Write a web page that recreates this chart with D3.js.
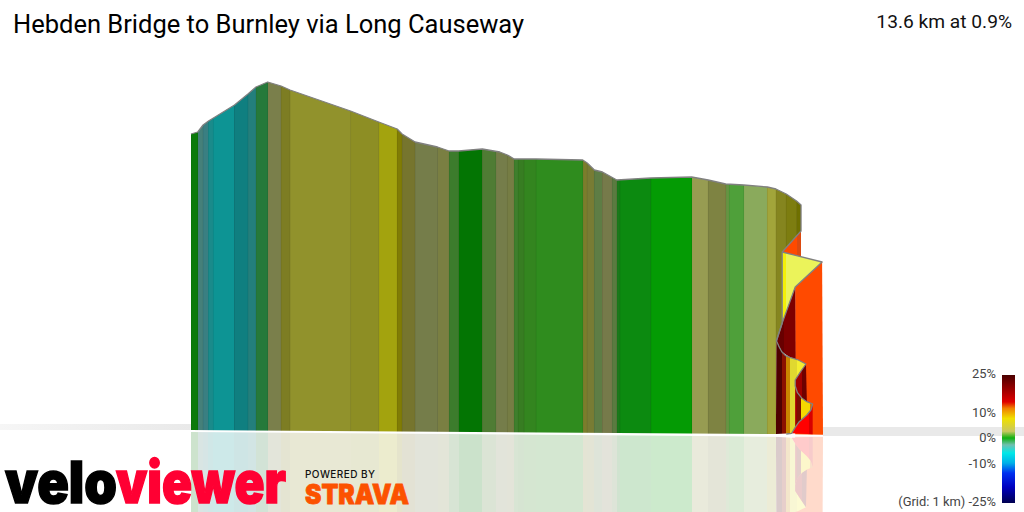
<!DOCTYPE html>
<meta charset="utf-8">
<style>
  html, body { margin: 0; padding: 0; background: #fff; overflow: hidden; }
  text { font-family: Roboto, sans-serif; }
</style>
<body>
<script src="https://d3js.org/d3.v7.min.js"></script>
<div id="chart"></div>
<script>

var title = "Hebden Bridge to Burnley via Long Causeway";
var summary = "13.6 km at 0.9%";

// distance along the ride (km) where the gradient colour changes
var mainBreaks = [0, 0.15, 0.27, 0.39, 0.50, 0.97, 1.27, 1.45, 1.71, 2.01, 2.21, 3.56, 4.19, 4.60, 4.71,
  5.00, 5.50, 5.76, 5.97, 6.50, 6.80, 7.06, 7.21, 7.30, 7.43, 7.70, 8.74, 8.84, 9.00, 9.18, 9.40, 9.50,
  9.57, 10.26, 11.17, 11.54, 11.93, 12.01, 12.33, 12.86, 13.05, 13.28, 13.51, 13.61];
var mainColors = ["#0b7a0b", "#45807a", "#3a7f82", "#1a8b8b", "#0d9494", "#0f7f80", "#237f7c", "#26793a",
  "#7a7f4b", "#7d7d23", "#91922c", "#8d8e24", "#a3a30e", "#807c05", "#76752e", "#757d4a", "#7a7f42",
  "#3c7c2c", "#037503", "#4f7c34", "#757d4a", "#767d44", "#3f7f2c", "#377d22", "#33851f", "#2f8c1e",
  "#7b7d2c", "#787c34", "#5e7d45", "#767a4a", "#5a7b40", "#1a7a1a", "#0c8a10", "#049b04", "#979c52",
  "#7e8342", "#669443", "#4fa03a", "#8aaa5c", "#a2a53a", "#85851f", "#7d7d10", "#6f7000"];

// [km, height in m] along the top edge of the long straight part of the route
var mainRidge = [[0, 299], [0.15, 301], [0.27, 308], [0.39, 312], [0.50, 315], [0.97, 328], [1.27, 339],
  [1.45, 346], [1.71, 351], [2.01, 347], [2.21, 343], [3.56, 322], [4.19, 311], [4.60, 304], [4.71, 299],
  [5.00, 291], [5.50, 286], [5.76, 282], [5.97, 282], [6.50, 284], [6.89, 281], [7.06, 278], [7.21, 274],
  [7.70, 274], [8.74, 273], [8.84, 270], [9.00, 263], [9.18, 261], [9.50, 253], [10.26, 255], [11.17, 256],
  [11.54, 253], [11.93, 249], [12.33, 248], [12.86, 246], [13.05, 244], [13.28, 239], [13.51, 232],
  [13.61, 228], [13.61, 202], [13.19, 181], [13.19, 110], [13.06, 92]];
var mainFoot = [[13.05, -1], [0, 3]];

// the last few hundred metres fold back on themselves in the 3D view
var backFold = [[13.61, 202], [13.19, 181], [13.61, 170]];
var backBreaks = [13.19, 13.51, 13.61];
var backColors = ["#ff4a00", "#dc4a10"];

var frontFold = [[14.08, 171], [14.10, -1.7], [13.48, -1.2], [13.48, 146]];
var frontBreaks = [13.48, 14.10];
var frontColors = ["#ff4a00"];

var wedgeFold = [[13.19, 181], [14.08, 171], [13.48, 146], [13.19, 110]];
var wedgeBreaks = [13.19, 13.27, 14.08];
var wedgeColors = ["#f3ef08", "#ebf35a"];

var darkFold = [[13.19, 110], [13.48, 146], [13.49, 73], [13.36, 75.7], [13.18, 81.3], [13.06, 92.3]];
var darkBreaks = [13.06, 13.24, 13.49];
var darkColors = ["#680000", "#7e0000"];

var lowerFold = [[13.06, 92.3], [13.12, 86.3], [13.18, 81.3], [13.27, 77.3], [13.36, 75.7], [13.55, 73], [13.72, 69],
  [13.60, 61.3], [13.48, 53], [13.48, 5.7], [13.40, -0.3], [13.05, -1]];
var lowerBreaks = [13.05, 13.19, 13.27, 13.36, 13.51, 13.72];
var lowerColors = ["#4d0000", "#8a1000", "#c98500", "#e0d830", "#f4ee30"];

var redFold = [[13.72, 69], [13.60, 61.3], [13.48, 53], [13.48, 47], [13.53, 40.3], [13.63, 34.7], [13.74, 31.3]];
var redBreaks = [13.48, 13.63, 13.74];
var redColors = ["#a00000", "#6e0000"];

var tipFold = [[13.48, 47], [13.53, 40.3], [13.63, 34.7], [13.74, 31.3], [13.87, 29], [13.83, 23], [13.74, 18],
  [13.57, 11.3], [13.48, 5.7]];
var tipBreaks = [13.48, 13.53, 13.62, 13.82, 13.87];
var tipColors = ["#9a0000", "#7a1000", "#f5d800", "#e07000"];

var footFold = [[13.40, -0.3], [13.48, 5.7], [13.57, 11.3], [13.74, 18], [13.83, 23], [13.87, 29], [13.87, -1.3]];
var footBreaks = [13.40, 13.78, 13.87];
var footColors = ["#ff0000", "#d80000"];

var foldEdge = [[13.06, 92.3], [13.12, 86.3], [13.18, 81.3], [13.27, 77.3], [13.36, 75.7], [13.55, 73], [13.72, 69],
  [13.60, 61.3], [13.48, 53], [13.48, 47], [13.53, 40.3], [13.63, 34.7], [13.74, 31.3], [13.87, 29], [13.83, 23],
  [13.74, 18], [13.57, 11.3], [13.48, 5.7], [13.40, -0.3], [13.28, -1]];
var wedgeEdge = [[13.19, 181], [14.08, 171], [13.48, 146], [13.19, 110], [13.06, 92]];

// gradient legend
var gradeStops = [25, 19, 14.5, 12, 8, 3, 0.4, -2.3, -5.5, -9.4, -13.3, -18.8, -25];
var gradeColors = ["#4a0000", "#a00000", "#e00000", "#f08000", "#f0e000", "#c8c860", "#10b010", "#70c0b0",
  "#00e8e8", "#00b0e8", "#0030f0", "#0000c0", "#000050"];
var gradeTicks = [25, 10, 0, -10, -25];

var width = 1024, height = 512;

var x = d3.scaleLinear().domain([0, 14.1]).range([191, 823]);
var y = d3.scaleLinear().domain([0, 351]).range([433, 82]);
var yGrade = d3.scaleLinear().domain([25, -25]).range([375, 503]);

var edgeLine = d3.line().x(function(d) { return x(d[0]); }).y(function(d) { return y(d[1]); });

var svg = d3.select("#chart")
  .append("svg")
    .attr("width", width)
    .attr("height", height);

var defs = svg.append("defs");

// ground strips either side of the route
var groundFade = defs.append("linearGradient").attr("id", "ground-fade");
groundFade.append("stop").attr("offset", 0).attr("stop-color", "#f6f6f6");
groundFade.append("stop").attr("offset", 1).attr("stop-color", "#e9e9e9");
svg.append("rect").attr("x", 0).attr("y", 424).attr("width", 191).attr("height", 6).style("fill", "url(#ground-fade)");
svg.append("rect").attr("x", 823).attr("y", 427).attr("width", 201).attr("height", 9).style("fill", "#e9e9e9");

var surfaces = [
  {name: "main", outline: mainRidge.concat(mainFoot), breaks: mainBreaks, colors: mainColors},
  {name: "back", outline: backFold, breaks: backBreaks, colors: backColors},
  {name: "front", outline: frontFold, breaks: frontBreaks, colors: frontColors},
  {name: "wedge", outline: wedgeFold, breaks: wedgeBreaks, colors: wedgeColors},
  {name: "dark", outline: darkFold, breaks: darkBreaks, colors: darkColors},
  {name: "lower", outline: lowerFold, breaks: lowerBreaks, colors: lowerColors},
  {name: "red", outline: redFold, breaks: redBreaks, colors: redColors},
  {name: "foot", outline: footFold, breaks: footBreaks, colors: footColors},
  {name: "tip", outline: tipFold, breaks: tipBreaks, colors: tipColors}
];

// draws the whole route into a group, used once upright and once for the reflection
function drawRoute(group, prefix, withEdges) {
  surfaces.forEach(function(s) {
    defs.append("clipPath")
        .attr("id", prefix + s.name)
      .append("path")
        .attr("d", edgeLine(s.outline) + "Z");

    group.append("g")
        .attr("clip-path", "url(#" + prefix + s.name + ")")
      .selectAll("rect")
      .data(d3.pairs(s.breaks))
      .enter()
      .append("rect")
        .attr("x", function(d) { return x(d[0]); })
        .attr("y", y(351))
        .attr("width", function(d) { return x(d[1]) - x(d[0]); })
        .attr("height", y(-5) - y(351))
        .attr("shape-rendering", "crispEdges")
        .style("fill", function(d, i) { return s.colors[i]; });
  });

  if (withEdges) {
    // faint seam between the bands
    group.append("g")
        .attr("clip-path", "url(#" + prefix + "main)")
      .selectAll("line")
      .data(mainBreaks)
      .enter()
      .append("line")
        .attr("x1", function(d) { return x(d); })
        .attr("x2", function(d) { return x(d); })
        .attr("y1", y(351))
        .attr("y2", y(-5))
        .style("stroke", "#000")
        .style("stroke-opacity", 0.08);

    [mainRidge, foldEdge, wedgeEdge].forEach(function(edge) {
      group.append("path")
          .attr("d", edgeLine(edge))
          .style("fill", "none")
          .style("stroke", "#808080")
          .style("stroke-width", 1.3)
          .style("stroke-linejoin", "round");
    });
  }
}

// reflection on the ground, mirrored about the slightly sloping foot of the route
var footSlope = (y(-1.7) - y(3)) / (x(14.1) - x(0));
var mirror = svg.append("g")
    .attr("transform", "matrix(1," + (2 * footSlope) + ",0,-1,0," + (2 * (y(3) - x(0) * footSlope) + 2) + ")")
    .style("opacity", 0.2);
drawRoute(mirror, "mirror-", false);

drawRoute(svg.append("g"), "route-", true);

// titles
svg.append("text")
    .attr("x", 13)
    .attr("y", 33)
    .style("font-size", "25.5px")
    .style("fill", "#000")
    .text(title);

svg.append("text")
    .attr("x", 1012)
    .attr("y", 28)
    .attr("text-anchor", "end")
    .style("font-size", "19.2px")
    .style("fill", "#111")
    .text(summary);

// legend colour bar
var gradient = defs.append("linearGradient")
    .attr("id", "grade-gradient")
    .attr("x1", 0).attr("x2", 0)
    .attr("y1", 0).attr("y2", 1);

gradient.selectAll("stop")
    .data(gradeStops)
    .enter()
    .append("stop")
      .attr("offset", function(d) { return (yGrade(d) - yGrade(25)) / (yGrade(-25) - yGrade(25)); })
      .attr("stop-color", function(d, i) { return gradeColors[i]; });

svg.append("rect")
    .attr("x", 1002)
    .attr("y", yGrade(25))
    .attr("width", 13)
    .attr("height", yGrade(-25) - yGrade(25))
    .style("fill", "url(#grade-gradient)");

var gradeAxis = svg.append("g")
    .attr("transform", "translate(996,-1.5)")
    .call(d3.axisLeft(yGrade)
      .tickValues(gradeTicks)
      .tickSize(0)
      .tickPadding(0)
      .tickFormat(function(d) { return (d === -25 ? "(Grid: 1 km) " : "") + d + "%"; }));
gradeAxis.select(".domain").remove();
gradeAxis.selectAll("text")
    .style("font-family", "Roboto, sans-serif")
    .style("font-size", "12.9px")
    .style("fill", "#444");

// logos, kept as text
svg.append("text")
    .attr("x", 5).attr("y", 503)
    .attr("textLength", 112).attr("lengthAdjust", "spacingAndGlyphs")
    .style("font-family", "Inter, Lato, sans-serif")
    .style("font-weight", 900)
    .style("font-size", "58px")
    .style("fill", "#000")
    .style("stroke", "#000")
    .style("stroke-width", 1.5)
    .text("velo");

svg.append("text")
    .attr("x", 116).attr("y", 503)
    .attr("textLength", 170).attr("lengthAdjust", "spacingAndGlyphs")
    .style("font-family", "Inter, Lato, sans-serif")
    .style("font-weight", 900)
    .style("font-size", "58px")
    .style("fill", "#ff0033")
    .style("stroke", "#ff0033")
    .style("stroke-width", 1.5)
    .text("viewer");

svg.append("text")
    .attr("x", 305).attr("y", 477.5)
    .attr("textLength", 70).attr("lengthAdjust", "spacing")
    .style("font-family", "Inter, sans-serif")
    .style("font-weight", 500)
    .style("font-size", "10px")
    .style("fill", "#111")
    .text("POWERED BY");

svg.append("text")
    .attr("x", 305).attr("y", 503.5)
    .attr("textLength", 104).attr("lengthAdjust", "spacingAndGlyphs")
    .style("font-family", "Inter, sans-serif")
    .style("font-weight", 900)
    .style("font-size", "26.5px")
    .style("fill", "#fc5200")
    .style("stroke", "#fc5200")
    .style("stroke-width", 0.8)
    .text("STRAVA");

</script>
</body>
